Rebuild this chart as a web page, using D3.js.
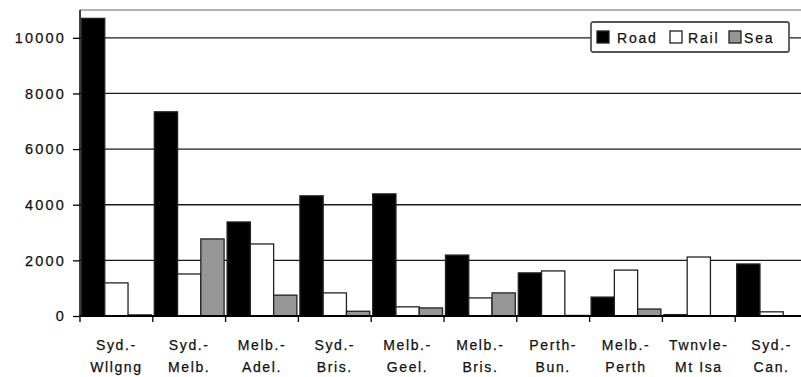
<!DOCTYPE html>
<html lang="en">
<head>
<meta charset="UTF-8">
<title>Freight by corridor</title>
<script src="https://d3js.org/d3.v7.min.js"></script>
<style>
    body { margin: 0; background: #fff; }
    text { font-family: "Liberation Sans", Arial, sans-serif; fill: #111; }
</style>
</head>
<body>
<svg id="chart"></svg>
<script>
    // Data
    var corridorsTop = ["Syd.-", "Syd.-", "Melb.-", "Syd.-", "Melb.-", "Melb.-", "Perth-", "Melb.-", "Twnvle-", "Syd.-"];
    var corridorsBottom = ["Wllgng", "Melb.", "Adel.", "Bris.", "Geel.", "Bris.", "Bun.", "Perth", "Mt Isa", "Can."];
    var road = [10700, 7340, 3380, 4320, 4390, 2190, 1550, 680, 50, 1870];
    var rail = [1190, 1510, 2590, 830, 330, 650, 1620, 1650, 2120, 150];
    var sea = [40, 2770, 750, 170, 290, 830, 20, 250, 0, 0];
    var seriesNames = ["Road", "Rail", "Sea"];
    var seriesColors = ["#000000", "#ffffff", "#969696"];
    var yTicks = [0, 2000, 4000, 6000, 8000, 10000];

    var W = 801, H = 377;
    var margin = { top: 10, left: 80, bottom: 61 };
    var plotRight = 808;   // plot runs just past the window edge

    var svg = d3.select("#chart").attr("width", W).attr("height", H);

    var x0 = d3.scaleBand()
        .domain(d3.range(corridorsTop.length))
        .range([margin.left, plotRight])
        .padding(0);

    var x1 = d3.scaleBand()
        .domain(seriesNames)
        .range([1.5, x0.bandwidth() - 1.5])
        .padding(0);

    var y = d3.scaleLinear()
        .domain([0, 11000])
        .range([H - margin.bottom, margin.top]);

    // top border of plot
    svg.append("line")
        .attr("x1", margin.left).attr("x2", W)
        .attr("y1", y(11000)).attr("y2", y(11000))
        .attr("stroke", "#9a9a9a").attr("stroke-width", 1.5);

    // gridlines
    svg.append("g")
        .selectAll("line")
        .data(yTicks.filter(d => d > 0))
        .enter().append("line")
        .attr("x1", margin.left).attr("x2", W)
        .attr("y1", d => y(d)).attr("y2", d => y(d))
        .attr("stroke", "#1a1a1a").attr("stroke-width", 1.3);

    // bars
    var values = [road, rail, sea];
    var groups = svg.append("g")
        .selectAll("g")
        .data(corridorsTop.map((c, i) => i))
        .enter().append("g")
        .attr("transform", i => "translate(" + x0(i) + ",0)");

    groups.selectAll("rect")
        .data(i => seriesNames.map((s, k) => ({ s: s, k: k, v: values[k][i] })))
        .enter().append("rect")
        .attr("x", d => x1(d.s))
        .attr("width", x1.bandwidth())
        .attr("y", d => y(d.v))
        .attr("height", d => y(0) - y(d.v))
        .attr("fill", d => seriesColors[d.k])
        .attr("stroke", d => d.v > 0 ? "#222" : "none")
        .attr("stroke-width", 1.3);

    // y axis
    var yAxis = svg.append("g")
        .attr("transform", "translate(" + margin.left + ",0)")
        .call(d3.axisLeft(y).tickValues(yTicks).tickSize(7).tickPadding(7).tickFormat(d3.format("d")));
    yAxis.select(".domain").attr("stroke", "#000").attr("stroke-width", 1.5)
        .attr("d", "M0," + y(11000) + "V" + y(0));
    yAxis.selectAll(".tick line").attr("stroke", "#000").attr("stroke-width", 1.3);
    yAxis.selectAll(".tick text")
        .attr("font-size", 14.5).attr("letter-spacing", "2.2px")
        .attr("font-family", "Liberation Sans, Arial, sans-serif").attr("fill", "#111")
        .attr("stroke", "#111").attr("stroke-width", 0.25);

    // x axis
    var xAxisG = svg.append("g");
    xAxisG.append("line")
        .attr("x1", margin.left).attr("x2", W)
        .attr("y1", y(0)).attr("y2", y(0))
        .attr("stroke", "#000").attr("stroke-width", 1.8);
    xAxisG.selectAll(".xt")
        .data(d3.range(corridorsTop.length + 1))
        .enter().append("line")
        .attr("x1", i => margin.left + i * x0.step()).attr("x2", i => margin.left + i * x0.step())
        .attr("y1", y(0)).attr("y2", y(0) + 6)
        .attr("stroke", "#000").attr("stroke-width", 1.3);

    var labels = xAxisG.selectAll(".xl")
        .data(d3.range(corridorsTop.length))
        .enter().append("text")
        .attr("text-anchor", "middle")
        .attr("font-size", 14)
        .attr("letter-spacing", "1.6px")
        .attr("stroke", "#111").attr("stroke-width", 0.25);
    labels.append("tspan")
        .attr("x", i => x0(i) + x0.bandwidth() / 2)
        .attr("y", 350)
        .text(i => corridorsTop[i]);
    labels.append("tspan")
        .attr("x", i => x0(i) + x0.bandwidth() / 2)
        .attr("y", 372)
        .text(i => corridorsBottom[i]);

    // legend
    var legend = svg.append("g").attr("transform", "translate(591,22)");
    legend.append("rect")
        .attr("width", 198).attr("height", 30).attr("rx", 2)
        .attr("fill", "#fff").attr("stroke", "#555").attr("stroke-width", 1.8);
    var legendX = [6, 79, 138];
    var item = legend.selectAll(".li")
        .data(seriesNames)
        .enter().append("g")
        .attr("transform", (d, i) => "translate(" + legendX[i] + ",0)");
    item.append("rect")
        .attr("x", 0).attr("y", 9).attr("width", 12).attr("height", 12)
        .attr("fill", (d, i) => seriesColors[i])
        .attr("stroke", "#222").attr("stroke-width", 1.3);
    item.append("text")
        .attr("x", (d, i) => [20, 18, 15][i]).attr("y", 21)
        .attr("font-size", 14).attr("letter-spacing", "1.8px")
        .attr("stroke", "#111").attr("stroke-width", 0.25)
        .text(d => d);
</script>
</body>
</html>
